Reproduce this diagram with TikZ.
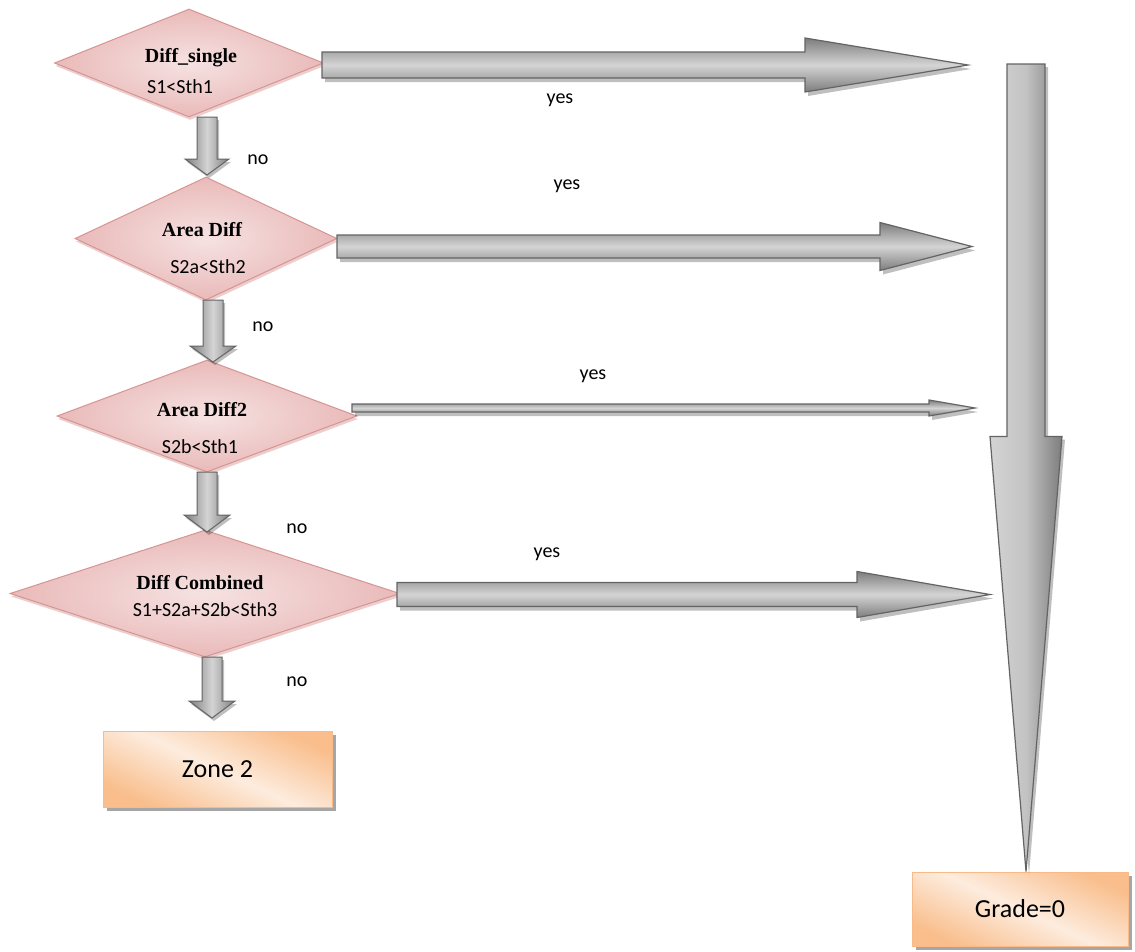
\documentclass[tikz,border=0pt]{standalone}
\usepackage{fontspec}
\setmainfont{Carlito}
\newfontfamily\titlefont{Liberation Serif}
\usetikzlibrary{shapes.geometric,shadows,calc}

\definecolor{diaEdge}{RGB}{214,148,146}
\definecolor{diaIn}{RGB}{246,226,226}
\definecolor{diaOut}{RGB}{233,186,185}
\definecolor{arrEdge}{RGB}{100,100,100}
\definecolor{arrDark}{RGB}{125,125,125}
\definecolor{arrLight}{RGB}{212,212,212}
\definecolor{boxEdge}{RGB}{248,186,136}
\definecolor{boxDark}{RGB}{249,190,140}
\definecolor{boxLight}{RGB}{253,236,222}

% horizontal block arrow: start, tip, half body, half head, head length
\newcommand{\hblock}[5]{%
  \path[blockH] let \p1=(#1), \p2=(#2) in
    (\x1,\y1-#3) -- (\x2-#5,\y1-#3) -- (\x2-#5,\y1-#4) -- (\x2,\y1)
    -- (\x2-#5,\y1+#4) -- (\x2-#5,\y1+#3) -- (\x1,\y1+#3) -- cycle;}
% vertical (downward) block arrow: style, start, tip, half body, half head, head length
\newcommand{\vblock}[6][blockV]{%
  \path[#1] let \p1=(#2), \p2=(#3) in
    (\x1-#4,\y1) -- (\x1-#4,\y2+#6) -- (\x1-#5,\y2+#6) -- (\x1,\y2)
    -- (\x1+#5,\y2+#6) -- (\x1+#4,\y2+#6) -- (\x1+#4,\y1) -- cycle;}

\tikzset{
  decision/.style={shape=diamond, draw=diaEdge, line width=1pt, inner sep=0pt,
    inner color=diaIn, outer color=diaOut,
    drop shadow={shadow xshift=1pt, shadow yshift=-3pt, fill=diaEdge, opacity=0.45}},
  title/.style={font=\titlefont\bfseries\fontsize{20}{24}\selectfont, inner sep=0pt},
  cond/.style={font=\fontsize{20}{24}\selectfont, inner sep=0pt},
  lbl/.style={font=\fontsize{20}{24}\selectfont, inner sep=0pt},
  blockH/.style={draw=arrEdge, line width=1.2pt, top color=arrDark, bottom color=arrDark,
    middle color=arrLight,
    drop shadow={shadow xshift=3pt, shadow yshift=-4pt, fill=black, opacity=0.25}},
  blockV/.style={draw=arrEdge, line width=1.2pt, left color=arrLight, right color=arrDark,
    middle color=arrLight!80!arrDark,
    drop shadow={shadow xshift=3pt, shadow yshift=-3pt, fill=black, opacity=0.25}},
  blockN/.style={draw=arrEdge, line width=1pt, left color=arrDark, right color=arrDark,
    middle color=arrLight,
    drop shadow={shadow xshift=2pt, shadow yshift=-3pt, fill=black, opacity=0.25}},
  result/.style={draw=boxEdge, line width=1pt, top color=boxDark, bottom color=boxDark,
    middle color=boxLight, shading angle=-25,
    font=\fontsize{26}{30}\selectfont,
    drop shadow={shadow xshift=4pt, shadow yshift=-4pt, fill=black, opacity=0.35}},
}

\begin{document}
\begin{tikzpicture}[x=1pt, y=-1pt]
  \useasboundingbox (0,0) rectangle (1135,951);
  \fill[white] (0,0) rectangle (1135,951);

  % decision diamonds
  \node[decision, minimum width=269pt, minimum height=108pt] (d1) at (189,63) {};
  \node[decision, minimum width=262pt, minimum height=123pt] (d2) at (206,238.5) {};
  \node[decision, minimum width=300pt, minimum height=112pt] (d3) at (207,416) {};
  \node[decision, minimum width=390pt, minimum height=127pt] (d4) at (205,593.5) {};

  \node[title] (t1) at (191,58) {Diff\_single};
  \node[cond]  (c1) at (180,87) {S1<Sth1};
  \node[title] (t2) at (202,230) {Area Diff};
  \node[cond]  (c2) at (208,267) {S2a<Sth2};
  \node[title] (t3) at (202,410) {Area Diff2};
  \node[cond]  (c3) at (200,447) {S2b<Sth1};
  \node[title] (t4) at (200,583) {Diff Combined};
  \node[cond]  (c4) at (205,610) {S1+S2a+S2b<Sth3};

  % result boxes
  \node[result, minimum width=229pt, minimum height=76pt] (z2) at (217.5,769) {Zone 2};
  \node[result, minimum width=216pt, minimum height=74pt] (g0) at (1020,909) {Grade=0};

  % "yes" branches
  \coordinate (a1s) at (322,65);    \coordinate (a1e) at (968,65);
  \coordinate (a2s) at (337,246.5); \coordinate (a2e) at (972,246.5);
  \coordinate (a3s) at (352,408);   \coordinate (a3e) at (975,408);
  \coordinate (a4s) at (397,594.5); \coordinate (a4e) at (990,594.5);
  \hblock{a1s}{a1e}{13pt}{27pt}{163pt}
  \hblock{a2s}{a2e}{11.5pt}{24pt}{92pt}
  \hblock{a3s}{a3e}{4pt}{8pt}{46pt}
  \hblock{a4s}{a4e}{12pt}{23pt}{133pt}

  % collecting arrow down to the grade box
  \coordinate (vtop) at (1026,64);
  \vblock{vtop}{g0.north}{19pt}{36pt}{435pt}

  % "no" branches
  \coordinate (n1s) at (207,117); \coordinate (n1e) at (207,175);
  \coordinate (n2s) at (213,300); \coordinate (n2e) at (213,362);
  \coordinate (n3s) at (207,472); \coordinate (n3e) at (207,532);
  \coordinate (n4s) at (212,657); \coordinate (n4e) at (212,718);
  \vblock[blockN]{n1s}{n1e}{10pt}{22pt}{16pt}
  \vblock[blockN]{n2s}{n2e}{10pt}{23pt}{16pt}
  \vblock[blockN]{n3s}{n3e}{10pt}{23pt}{17pt}
  \vblock[blockN]{n4s}{n4e}{10pt}{23pt}{17pt}

  % branch labels
  \node[lbl] (y1) at (560,100) {yes};
  \node[lbl] (y2) at (567,186) {yes};
  \node[lbl] (y3) at (593,376) {yes};
  \node[lbl] (y4) at (547,554) {yes};
  \node[lbl] (o1) at (258,160) {no};
  \node[lbl] (o2) at (263,327) {no};
  \node[lbl] (o3) at (297,529) {no};
  \node[lbl] (o4) at (297,682) {no};
\end{tikzpicture}
\end{document}
